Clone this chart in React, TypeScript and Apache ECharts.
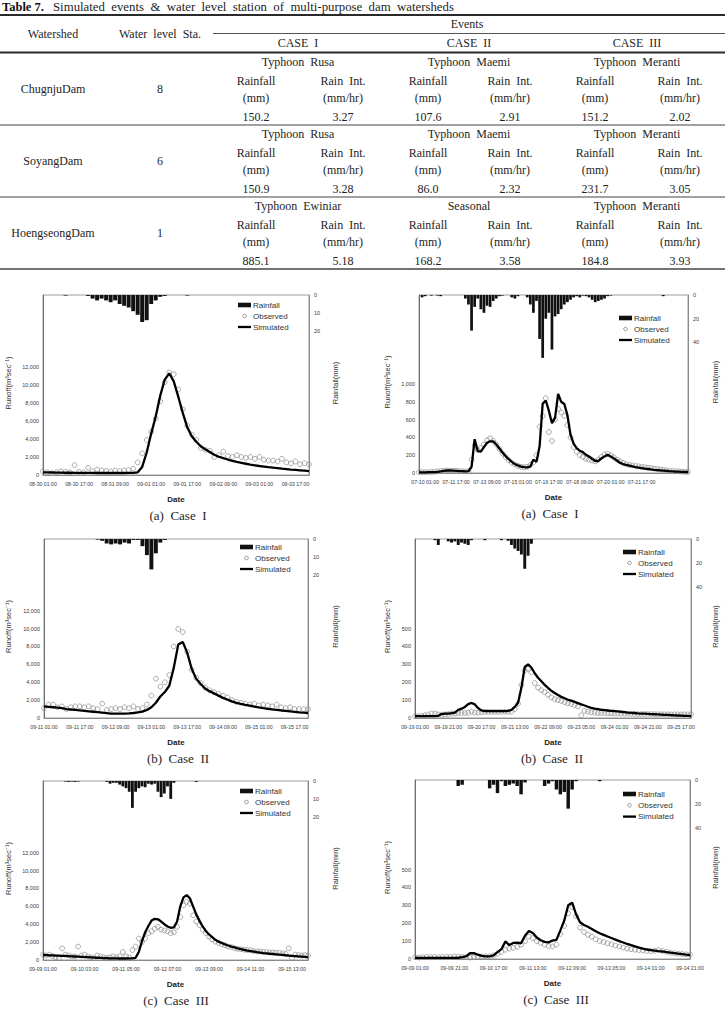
import React, { useEffect, useRef } from "react";
import * as echarts from "echarts";

const SERIF = '"Liberation Serif", "Times New Roman", serif';
const SANS = '"Liberation Sans", Arial, sans-serif';

// ---------- Table 7 ----------
const tableTitleBold = "Table 7.";
const tableTitle = "Simulated events & water level station of multi-purpose dam watersheds";
const watersheds = ["ChugnjuDam", "SoyangDam", "HoengseongDam"];
const stationCounts = ["8", "6", "1"];
const caseNames = ["CASE I", "CASE II", "CASE III"];
const eventNames = [
  ["Typhoon Rusa", "Typhoon Maemi", "Typhoon Meranti"],
  ["Typhoon Rusa", "Typhoon Maemi", "Typhoon Meranti"],
  ["Typhoon Ewiniar", "Seasonal", "Typhoon Meranti"],
];
const rainfallTotals = [
  ["150.2", "107.6", "151.2"],
  ["150.9", "86.0", "231.7"],
  ["885.1", "168.2", "184.8"],
];
const rainIntensities = [
  ["3.27", "2.91", "2.02"],
  ["3.28", "2.32", "3.05"],
  ["5.18", "3.58", "3.93"],
];

// ---------- Hydrographs: left column (2-hourly) ----------
const leftCaseISim = [
  300, 290, 280, 270, 260, 250, 250, 240, 240, 230,
  230, 230, 220, 220, 220, 220, 220, 220, 220, 230,
  240, 300, 900, 2500, 4600, 6500, 8800, 10600, 11300, 10400,
  8700, 6900, 5300, 4300, 3700, 3200, 2850, 2550, 2250, 2030,
  1870, 1720, 1580, 1450, 1350, 1250, 1150, 1080, 1000, 940,
  870, 810, 760, 700, 650, 600, 560, 520, 480, 440,
];
const leftCaseIObs = [
  400, 300, 200, 300, 400, 350, 300, 1100, 350, 300,
  800, 400, 600, 500, 450, 400, 500, 450, 500, 550,
  700, 1400, 2400, 3900, 4800, 6300, 8200, 10300, 11400, 11200,
  9500, 7300, 5500, 4500, 3900, 3000, 2800, 2700, 2000, 2200,
  2600, 2100, 2000, 2200, 2000, 1900, 2000, 1800, 2000, 1700,
  1600, 1600, 1500, 1800, 1400, 1300, 1500, 1200, 1300, 1200,
];
const leftCaseIRain = [
  0, 0, 0, 0, 0, 0.3, 0, 0, 0, 0,
  0.5, 2, 3, 2, 3, 4, 3, 5, 6, 7,
  9, 11, 15, 14, 5, 3, 1, 0.5, 0, 0,
  0, 0, 0.3, 0, 0, 0, 0, 0, 0, 0,
  0, 0, 0, 0, 0, 0, 0, 0, 0, 0,
  0, 0, 0, 0, 0, 0, 0, 0, 0, 0,
];

const leftCaseIISim = [
  1300, 1250, 1200, 1150, 1100, 1000, 950, 900, 850, 800,
  750, 700, 650, 600, 550, 500, 480, 480, 490, 520,
  560, 620, 720, 900, 1200, 1700, 2400, 2900, 3600, 5600,
  8200, 8500, 7300, 5500, 4400, 3800, 3300, 3000, 2750, 2500,
  2250, 2050, 1850, 1700, 1580, 1470, 1370, 1270, 1180, 1100,
  1030, 960, 900, 840, 790, 740, 690, 640, 600, 560,
];
const leftCaseIIObs = [
  1100, 1500, 1500, 1200, 1300, 1000, 1200, 1300, 1300, 1200,
  1300, 1100, 1000, 1600, 900, 1000, 1100, 1000, 1200, 1100,
  1300, 1000, 1100, 1500, 2500, 4400, 3500, 4000, 4800, 8000,
  9950, 9600, 7400, 5400, 4500, 3900, 3400, 3100, 2900, 2700,
  2500, 2300, 2000, 1800, 1700, 1600, 1500, 1600, 1400, 1500,
  1400, 1300, 1500, 1200, 1100, 1200, 1000, 1000, 1000, 1000,
];
const leftCaseIIRain = [
  0, 0, 0, 0, 0, 0, 0, 0, 0, 0,
  0, 0, 0.3, 1, 2.5, 3, 2.5, 3, 2, 2.5,
  0.5, 0.5, 4, 9, 17, 8, 2, 0.5, 0, 0,
  0, 0, 0, 0, 0, 0, 0, 0, 0, 0,
  0, 0, 0, 0, 0, 0, 0, 0, 0, 0,
  0, 0, 0, 0, 0, 0, 0, 0, 0, 0,
];

const leftCaseIIISim = [
  560, 550, 530, 520, 500, 490, 470, 450, 430, 410,
  390, 370, 350, 330, 310, 290, 270, 250, 230, 210,
  200, 190, 180, 175, 170, 170, 170, 175, 190, 250,
  900, 2100, 3100, 3800, 4400, 4600, 4550, 4300, 4000, 3750,
  3600, 3650, 4300, 6000, 7000, 7250, 6900, 6000, 5100, 4400,
  3750, 3250, 2850, 2550, 2250, 2050, 1900, 1750, 1620, 1500,
  1400, 1300, 1220, 1140, 1060, 1000, 940, 880, 830, 780,
  740, 700, 670, 640, 600, 570, 530, 500, 470, 440,
  400, 370, 340, 300,
];
const leftCaseIIIObs = [
  600, 500, 600, 450, 300, 200, 1300, 600, 500, 400,
  400, 1500, 500, 600, 400, 300, 200, 500, 400, 300,
  250, 300, 400, 300, 400, 900, 400, 300, 1100, 1500,
  2400, 2000, 2400, 3000, 3200, 3500, 3700, 3400, 3300, 3200,
  3000, 3100, 3700, 4800, 6100, 6500, 6300, 5000, 4300, 3900,
  3400, 3000, 2600, 2300, 2050, 1900, 1750, 1650, 1500, 1450,
  1300, 1250, 1200, 1150, 1100, 1100, 1000, 950, 950, 900,
  900, 850, 850, 800, 800, 750, 700, 1300, 200, 600,
  550, 500, 550, 500,
];
const leftCaseIIIRain = [
  0, 0, 0, 0, 0, 0, 0, 0.3, 0.5, 0.3,
  0.5, 0.3, 0, 0, 0, 0, 0, 0, 0, 0,
  0.5, 1.5, 1, 1, 2, 3, 4, 6, 15, 6,
  4, 3, 3.5, 1.5, 2, 1.5, 6, 9, 7, 3,
  10, 1, 0, 0, 0, 0, 0, 0, 0.5, 0,
  0, 0, 0, 0, 0, 0, 0, 0, 0, 0,
  0, 0, 0, 0, 0, 0, 0, 0, 0, 0,
  0, 0, 0, 0, 0, 0, 0, 0, 0, 0,
  0, 0, 0, 0,
];

// ---------- Hydrographs: right column ----------
// Case I is 4-hourly, Cases II and III are 2-hourly
const rightCaseISim = [
  8, 8, 8, 9, 10, 10, 12, 18, 25, 28,
  28, 27, 25, 22, 20, 18, 20, 70, 380, 245,
  240, 290, 340, 355, 355, 320, 275, 230, 190, 155,
  125, 100, 85, 72, 66, 64, 72, 150, 125, 300,
  780, 815, 700, 560, 620, 890, 800, 775, 650, 430,
  330, 280, 250, 235, 205, 185, 160, 135, 135, 165,
  185, 205, 185, 165, 140, 115, 100, 90, 82, 74,
  66, 60, 54, 49, 45, 40, 36, 33, 30, 27,
  24, 20, 18, 16, 15, 13, 12, 11,
];
const rightCaseIObs = [
  10, 10, 10, 10, 12, 15, 18, 22, 25, 28,
  28, 26, 24, 22, 20, 18, 20, 150, 310, 260,
  280, 320, 370, 390, 360, 320, 270, 220, 180, 145,
  115, 95, 80, 70, 65, 70, 90, 120, 200, 520,
  640, 840, 460, 360, 600, 720, 680, 640, 540, 400,
  290, 240, 200, 180, 160, 150, 140, 130, 150, 180,
  210, 215, 200, 175, 150, 130, 115, 100, 90, 85,
  80, 75, 70, 65, 60, 55, 50, 45, 40, 35,
  30, 25, 22, 20, 18, 15, 12, 12,
];
const rightCaseIRain = [
  0, 2, 1, 0, 0.5, 0, 0.5, 1, 0, 0,
  0, 0, 0, 0, 0, 3, 8, 30, 10, 3,
  12, 15, 9, 10, 5, 3, 1, 0.5, 0, 0,
  2, 3, 1, 0, 0, 2, 8, 15, 5, 37,
  53, 20, 15, 46, 18, 16, 12, 8, 6, 4,
  2, 1, 2, 0.5, 1, 2, 4, 6, 5, 4,
  3, 1, 0.5, 0, 0, 0, 0, 0, 0, 0,
  0, 0, 0, 0, 0, 0, 0, 0, 0, 1,
  0, 0, 0, 0, 0, 0, 0, 0,
];

const rightCaseIISim = [
  11, 11, 11, 11, 11, 11, 11, 12, 22, 24,
  25, 27, 30, 45, 52, 62, 78, 84, 76, 55,
  42, 39, 38, 38, 38, 38, 38, 38, 40, 45,
  62, 85, 170, 285, 300, 282, 250, 225, 205, 185,
  168, 152, 140, 128, 118, 110, 102, 97, 90, 83,
  76, 70, 63, 57, 52, 49, 46, 44, 42, 40,
  39, 37, 35, 33, 30, 29, 28, 26, 25, 24,
  23, 22, 21, 20, 19, 18, 17, 16, 15, 14,
  13, 12, 12, 11,
];
const rightCaseIIObs = [
  10, 10, 12, 15, 20, 25, 25, 20, 18, 20,
  22, 25, 25, 28, 28, 28, 30, 35, 30, 30,
  32, 33, 34, 34, 34, 34, 35, 35, 35, 35,
  50, 80, 185, 265, 275, 255, 195, 170, 155, 145,
  130, 115, 105, 100, 95, 88, 82, 78, 72, 65,
  15, 40, 36, 32, 30, 28, 28, 27, 26, 26,
  25, 25, 24, 24, 24, 23, 23, 22, 22, 22,
  22, 22, 21, 21, 21, 20, 20, 20, 20, 20,
  20, 20, 20, 20,
];
const rightCaseIIRain = [
  0, 0, 0, 0, 0, 0, 1, 5, 0, 0,
  2, 3, 2, 5, 3, 4, 5, 1, 0, 0,
  0, 1, 0, 0, 0, 0, 1, 0, 1.5, 5,
  8, 10, 13, 25, 14, 4, 0, 0, 0, 0,
  0, 0, 0, 0, 0, 0, 0, 0, 0, 0,
  0, 0, 0, 0, 0, 0, 0, 0, 0, 0,
  0, 0, 0, 0, 0, 0, 0, 0, 0, 0,
  0, 0, 0, 0, 0, 0, 0, 0, 0, 0,
  0, 0, 0, 0,
];

const rightCaseIIISim = [
  6, 6, 6, 6, 6, 6, 6, 6, 6, 6,
  6, 7, 10, 15, 32, 33, 24, 17, 15, 15,
  20, 38, 55, 98, 78, 90, 92, 88, 130, 157,
  145, 120, 105, 96, 93, 103, 107, 160, 215, 300,
  315, 250, 205, 190, 180, 168, 155, 144, 135, 126,
  117, 108, 100, 92, 84, 77, 70, 64, 58, 53,
  50, 47, 44, 42, 39, 36, 33, 30, 27, 24,
  22,
];
const rightCaseIIIObs = [
  10, 8, 10, 12, 10, 12, 10, 12, 12, 12,
  14, 14, 12, 10, 8, 10, 12, 14, 15, 15,
  20, 30, 40, 52, 58, 62, 68, 80, 100, 126,
  117, 100, 90, 80, 72, 70, 80, 140, 185, 255,
  290, 240, 175, 150, 135, 125, 110, 100, 95, 88,
  82, 75, 70, 64, 58, 55, 52, 50, 48, 45,
  44, 46, 50, 45, 40, 35, 33, 30, 28, 26,
  24,
];
const rightCaseIIIRain = [
  0, 0, 0, 0, 0, 0, 0, 0, 0, 0,
  0, 5, 4, 0, 0, 0, 0, 0, 0, 7,
  4, 11, 1, 5, 4, 3, 5, 12, 2, 0,
  0, 0, 0, 5, 3, 1, 8, 12, 10, 24,
  8, 1, 0, 0, 0, 0, 0, 1, 0, 0,
  0, 0, 0, 0, 0, 0, 0, 0, 0, 0,
  0, 0, 0, 0, 0, 0, 0, 0, 0, 0,
  0,
];

// Builds "MM-DD HH:00" category labels from a start time and a step in hours
function timeLabels(start: number[], stepH: number, count: number): string[] {
  const [y, mo, d, h] = start;
  const t0 = Date.UTC(y, mo - 1, d, h);
  const pad = (n: number) => String(n).padStart(2, "0");
  const out: string[] = [];
  for (let i = 0; i < count; i++) {
    const t = new Date(t0 + i * stepH * 3600000);
    out.push(`${pad(t.getUTCMonth() + 1)}-${pad(t.getUTCDate())} ${pad(t.getUTCHours())}:00`);
  }
  return out;
}

type Panel = {
  start: number[];
  step: number;
  labelStart: number;
  labelEvery: number;
  labelLast: number;
  sim: number[];
  obs: number[];
  rain: number[];
  runoffMax: number;
  runoffStep: number;
  runoffShow: number;
  rainMax: number;
  rainStep: number;
  rainShow: number;
  grid: { left: number; top: number; width: number; height: number };
  legend: { x: number; y: number; gap: number };
  runoffNameX: number;
  rainNameX: number;
  caption: string;
  captionX: number;
};

const leftScale = { runoffMax: 20000, runoffStep: 2000, runoffShow: 12000, rainMax: 100, rainStep: 10, rainShow: 20 };
const rightScaleI = { runoffMax: 2000, runoffStep: 200, runoffShow: 1000, rainMax: 150, rainStep: 20, rainShow: 40 };
const rightScale = { runoffMax: 1000, runoffStep: 100, runoffShow: 500, rainMax: 150, rainStep: 20, rainShow: 40 };

const panels: Panel[] = [
  {
    start: [2002, 8, 30, 1], step: 2, labelStart: 0, labelEvery: 8, labelLast: 56,
    sim: leftCaseISim, obs: leftCaseIObs, rain: leftCaseIRain, ...leftScale,
    grid: { left: 43, top: 295, width: 266, height: 180 },
    legend: { x: 238, y: 305, gap: 11 }, runoffNameX: 8, rainNameX: 335,
    caption: "(a)  Case  I", captionX: 178,
  },
  {
    start: [2006, 7, 9, 17], step: 4, labelStart: 2, labelEvery: 10, labelLast: 72,
    sim: rightCaseISim, obs: rightCaseIObs, rain: rightCaseIRain, ...rightScaleI,
    grid: { left: 419, top: 295, width: 269, height: 178 },
    legend: { x: 619, y: 318, gap: 11 }, runoffNameX: 387, rainNameX: 715,
    caption: "(a)  Case  I", captionX: 550,
  },
  {
    start: [2003, 9, 11, 1], step: 2, labelStart: 0, labelEvery: 8, labelLast: 56,
    sim: leftCaseIISim, obs: leftCaseIIObs, rain: leftCaseIIRain, ...leftScale,
    grid: { left: 44, top: 539, width: 264, height: 179 },
    legend: { x: 240, y: 547, gap: 11 }, runoffNameX: 8, rainNameX: 335,
    caption: "(b)  Case  II", captionX: 178,
  },
  {
    start: [2007, 9, 19, 1], step: 2, labelStart: 0, labelEvery: 10, labelLast: 80,
    sim: rightCaseIISim, obs: rightCaseIIObs, rain: rightCaseIIRain, ...rightScale,
    grid: { left: 415, top: 539, width: 276, height: 179 },
    legend: { x: 623, y: 552, gap: 11 }, runoffNameX: 387, rainNameX: 715,
    caption: "(b)  Case  II", captionX: 552,
  },
  {
    start: [2010, 9, 9, 1], step: 2, labelStart: 0, labelEvery: 13, labelLast: 78,
    sim: leftCaseIIISim, obs: leftCaseIIIObs, rain: leftCaseIIIRain, ...leftScale,
    grid: { left: 43, top: 781, width: 265, height: 179 },
    legend: { x: 240, y: 791, gap: 11 }, runoffNameX: 8, rainNameX: 335,
    caption: "(c)  Case  III", captionX: 176,
  },
  {
    start: [2010, 9, 9, 1], step: 2, labelStart: 0, labelEvery: 10, labelLast: 70,
    sim: rightCaseIIISim, obs: rightCaseIIIObs, rain: rightCaseIIIRain, ...rightScale,
    grid: { left: 415, top: 780, width: 275, height: 179 },
    legend: { x: 623, y: 794, gap: 11.3 }, runoffNameX: 387, rainNameX: 715,
    caption: "(c)  Case  III", captionX: 556,
  },
];

const spaced = (s: string) => s.replace(/ /g, "\u00a0 ");

function text(x: number, y: number, s: string, o: any = {}): any {
  return {
    type: "text",
    x,
    y,
    rotation: o.rotation || 0,
    silent: true,
    style: {
      text: s,
      fontSize: o.fontSize || 12,
      fontFamily: o.fontFamily || SERIF,
      fontWeight: o.fontWeight || "normal",
      fill: o.fill || "#1e1e1e",
      textAlign: o.align || "center",
      align: o.align || "center",
      textVerticalAlign: "middle",
      verticalAlign: "middle",
    },
  };
}

function hline(x1: number, x2: number, y: number, w: number, color = "#2a2a2a"): any {
  return {
    type: "line",
    silent: true,
    shape: { x1, y1: y, x2, y2: y },
    style: { stroke: color, lineWidth: w },
  };
}

function tableGraphics(): any[] {
  const g: any[] = [];
  g.push(text(2, 7, tableTitleBold, { align: "left", fontWeight: "bold", fill: "#111", fontSize: 12.5 }));
  g.push(text(53, 7, spaced(tableTitle), { align: "left", fontSize: 12.8 }));
  g.push(hline(0, 725, 15, 2));
  g.push(hline(213, 725, 33.5, 1, "#555"));
  g.push(hline(0, 725, 52.5, 2));
  g.push(text(53, 34, "Watershed"));
  g.push(text(160, 34, spaced("Water level Sta.")));
  g.push(text(467, 24, "Events"));
  const caseX = [298, 469, 637];
  const colA = [256, 428, 595];
  const colB = [343, 510, 680];
  caseNames.forEach((c, i) => g.push(text(caseX[i], 43, spaced(c))));
  watersheds.forEach((w, r) => {
    const top = 52 + 72 * r;
    g.push(text(53, top + 37, w));
    g.push(text(160, top + 37, stationCounts[r]));
    for (let c = 0; c < 3; c++) {
      g.push(text(caseX[c], top + 10, spaced(eventNames[r][c])));
      g.push(text(colA[c], top + 29, "Rainfall"));
      g.push(text(colB[c], top + 29, spaced("Rain Int.")));
      g.push(text(colA[c], top + 46, "(mm)"));
      g.push(text(colB[c], top + 46, "(mm/hr)"));
      g.push(text(colA[c], top + 65, rainfallTotals[r][c]));
      g.push(text(colB[c], top + 65, rainIntensities[r][c]));
    }
    g.push(hline(0, 725, top + 73, r === 2 ? 1.5 : 1.2, "#444"));
  });
  return g;
}

function buildOption() {
  const grids: any[] = [];
  const xAxes: any[] = [];
  const yAxes: any[] = [];
  const series: any[] = [];
  const graphics: any[] = tableGraphics();

  panels.forEach((p, k) => {
    const dates = timeLabels(p.start, p.step, p.sim.length);
    const { left, top, width, height } = p.grid;
    grids.push({ left, top, width, height, show: true, borderColor: "#9c9c9c", borderWidth: 1, containLabel: false });

    xAxes.push({
      type: "category",
      gridIndex: k,
      data: dates,
      boundaryGap: false,
      axisLine: { onZero: false, lineStyle: { color: "#8a8a8a", width: 1 } },
      axisTick: { show: false },
      splitLine: { show: false },
      axisLabel: {
        interval: (i: number) =>
          i >= p.labelStart && i <= p.labelLast && (i - p.labelStart) % p.labelEvery === 0,
        fontSize: 5.2,
        fontFamily: SANS,
        color: "#3a3a3a",
        margin: 6,
      },
    });

    yAxes.push({
      type: "value",
      gridIndex: k,
      position: "left",
      min: 0,
      max: p.runoffMax,
      interval: p.runoffStep,
      axisLine: { show: true, lineStyle: { color: "#6e6e6e", width: 1 } },
      axisTick: { show: false },
      splitLine: { show: false },
      axisLabel: {
        fontSize: 5.5,
        fontFamily: SANS,
        color: "#3a3a3a",
        margin: 4,
        formatter: (v: number) => (v <= p.runoffShow ? v.toLocaleString("en-US") : ""),
      },
    });
    yAxes.push({
      type: "value",
      gridIndex: k,
      position: "right",
      inverse: true,
      min: 0,
      max: p.rainMax,
      interval: p.rainStep,
      axisLine: { show: true, lineStyle: { color: "#8a8a8a", width: 1 } },
      axisTick: { show: false },
      splitLine: { show: false },
      axisLabel: {
        fontSize: 5.5,
        fontFamily: SANS,
        color: "#3a3a3a",
        margin: 5,
        formatter: (v: number) => (v <= p.rainShow ? String(v) : ""),
      },
    });

    series.push({
      type: "bar",
      name: "Rainfall",
      xAxisIndex: k,
      yAxisIndex: 2 * k + 1,
      data: p.rain,
      barCategoryGap: "12%",
      itemStyle: { color: "#111" },
      z: 2,
    });
    series.push({
      type: "scatter",
      name: "Observed",
      xAxisIndex: k,
      yAxisIndex: 2 * k,
      data: p.obs,
      symbol: "circle",
      symbolSize: 4.8,
      itemStyle: { color: "rgba(255,255,255,0)", borderColor: "#8a8a8a", borderWidth: 0.9 },
      z: 3,
    });
    series.push({
      type: "line",
      name: "Simulated",
      xAxisIndex: k,
      yAxisIndex: 2 * k,
      data: p.sim,
      showSymbol: false,
      symbol: "none",
      lineStyle: { color: "#000", width: 2.3 },
      z: 4,
    });

    // legend
    const lx = p.legend.x;
    const ly = p.legend.y;
    const gap = p.legend.gap;
    graphics.push({ type: "rect", silent: true, shape: { x: lx, y: ly - 2.3, width: 13, height: 4.6 }, style: { fill: "#111" } });
    graphics.push({ type: "circle", silent: true, shape: { cx: lx + 6.5, cy: ly + gap, r: 1.8 }, style: { fill: "none", stroke: "#8a8a8a", lineWidth: 0.9 } });
    graphics.push({ type: "line", silent: true, shape: { x1: lx, y1: ly + 2 * gap, x2: lx + 13, y2: ly + 2 * gap }, style: { stroke: "#000", lineWidth: 2.3 } });
    ["Rainfall", "Observed", "Simulated"].forEach((n, i) =>
      graphics.push(text(lx + 15, ly + i * gap, n, { align: "left", fontSize: 8, fontFamily: SANS, fill: "#333" }))
    );

    // axis titles, date label, caption
    const cy = top + height / 2 - 2;
    graphics.push(text(p.runoffNameX, cy, "Runoff(m\u00b3sec\u207b\u00b9)", { rotation: Math.PI / 2, fontSize: 7.5, fontFamily: SANS, fill: "#333" }));
    graphics.push(text(p.rainNameX, cy, "Rainfall(mm)", { rotation: Math.PI / 2, fontSize: 7.5, fontFamily: SANS, fill: "#333" }));
    graphics.push(text(left + width / 2, top + height + 24, "Date", { fontSize: 8, fontFamily: SANS, fontWeight: "bold", fill: "#222" }));
    graphics.push(text(p.captionX, top + height + 40, p.caption, { fontSize: 13, fill: "#1e1e1e" }));
  });

  return {
    animation: false,
    backgroundColor: "#fff",
    grid: grids,
    xAxis: xAxes,
    yAxis: yAxes,
    series,
    graphic: { elements: graphics },
  };
}

export default function App() {
  const ref = useRef<HTMLDivElement>(null);
  useEffect(() => {
    if (!ref.current) return;
    const chart = echarts.init(ref.current, undefined, { renderer: "svg" });
    chart.setOption(buildOption());
    return () => chart.dispose();
  }, []);
  return (
    <div
      ref={ref}
      style={{ position: "absolute", left: 0, top: 0, width: 727, height: 1012, background: "#fff" }}
    />
  );
}
